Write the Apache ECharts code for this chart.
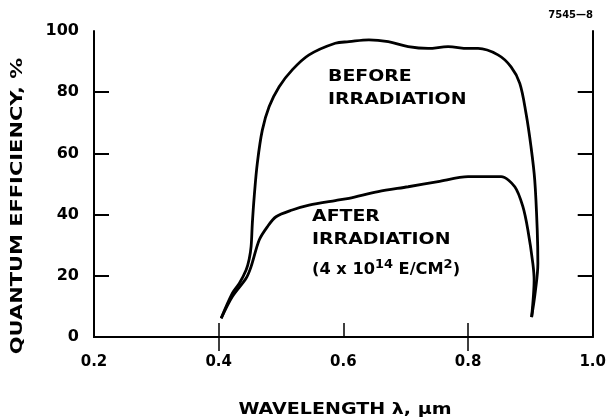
<!DOCTYPE html>
<html>
<head>
<meta charset="utf-8">
<script src="https://cdn.jsdelivr.net/npm/echarts@6/dist/echarts.min.js"></script>
<style>
  html, body { margin: 0; padding: 0; background: #fff; }
  #chart { width: 609px; height: 419px; }
</style>
</head>
<body>
<div id="chart"></div>
<script>
// ---- data ----
var beforeX = [0.404, 0.422, 0.433, 0.444, 0.449, 0.452, 0.454, 0.457, 0.462, 0.470, 0.481, 0.497, 0.518, 0.545, 0.587, 0.609, 0.641, 0.672, 0.704, 0.736, 0.768, 0.800, 0.816, 0.848, 0.869, 0.883, 0.893, 0.901, 0.907, 0.911, 0.912, 0.908, 0.902];
var beforeY = [6.1, 14.3, 17.5, 21.9, 25.5, 29.5, 37.2, 45.9, 56.8, 67.6, 75.3, 81.8, 87.3, 92.2, 96.0, 96.5, 97.1, 96.5, 94.9, 94.3, 94.9, 94.3, 94.3, 92.2, 88.3, 82.9, 73.1, 62.2, 51.3, 35.0, 24.0, 15.0, 6.5];
var afterX = [0.404, 0.422, 0.444, 0.452, 0.465, 0.478, 0.492, 0.518, 0.545, 0.587, 0.609, 0.656, 0.704, 0.752, 0.800, 0.816, 0.853, 0.875, 0.888, 0.896, 0.904, 0.906, 0.902];
var afterY = [6.1, 13.2, 19.2, 23.0, 31.7, 36.0, 39.3, 41.5, 43.1, 44.6, 45.3, 47.5, 49.1, 50.8, 52.4, 52.4, 52.4, 49.1, 42.6, 35.0, 24.0, 18.6, 6.5];
var xTickValues = [0.2, 0.4, 0.6, 0.8, 1.0];
var yTickValues = [0, 20, 40, 60, 80, 100];
var xName = 'WAVELENGTH \u03bb, \u03bcm';
var yName = 'QUANTUM EFFICIENCY, %';
var figId = '7545\u20148';

function zip(xs, ys) { return xs.map(function (x, i) { return [x, ys[i]]; }); }

var FONT = '"DejaVu Sans", sans-serif';
var axisLineStyle = { color: '#000', width: 2 };

var chart = echarts.init(document.getElementById('chart'), null, { renderer: 'canvas' });
chart.setOption({
  backgroundColor: '#fff',
  animation: false,
  grid: { left: 94, right: 14, top: 31, bottom: 82 },
  xAxis: [
    {
      type: 'value', position: 'bottom', min: 0.2, max: 1.0, interval: 0.2,
      axisLine: { show: true, lineStyle: axisLineStyle },
      axisTick: { show: true, inside: true, length: 14, lineStyle: { color: '#000', width: 1.5 }, customValues: [0.4, 0.6, 0.8] },
      axisLabel: { show: true, margin: 18, color: '#000', fontFamily: FONT, fontWeight: 'bold', fontSize: 15,
        customValues: xTickValues, formatter: function (v) { return v.toFixed(1); } },
      splitLine: { show: false }
    },
    {
      type: 'value', position: 'top', min: 0.2, max: 1.0, interval: 0.2,
      axisLine: { show: true, lineStyle: axisLineStyle },
      axisTick: { show: true, inside: true, length: 14, lineStyle: { color: '#000', width: 1.5 }, customValues: [0.4, 0.8] },
      axisLabel: { show: false },
      splitLine: { show: false }
    }
  ],
  yAxis: [
    {
      type: 'value', position: 'left', min: 0, max: 100, interval: 20,
      axisLine: { show: true, lineStyle: axisLineStyle },
      axisTick: { show: true, inside: true, length: 15, lineStyle: { color: '#000', width: 2 }, customValues: [20, 40, 60, 80] },
      axisLabel: { show: true, margin: 15, color: '#000', fontFamily: FONT, fontWeight: 'bold', fontSize: 16, customValues: yTickValues },
      splitLine: { show: false }
    },
    {
      type: 'value', position: 'right', min: 0, max: 100, interval: 20,
      axisLine: { show: true, lineStyle: axisLineStyle },
      axisTick: { show: true, inside: true, length: 15, lineStyle: { color: '#000', width: 2 }, customValues: [20, 40, 60, 80] },
      axisLabel: { show: false },
      splitLine: { show: false }
    }
  ],
  series: [
    {
      name: 'Before irradiation', type: 'line', xAxisIndex: 0, yAxisIndex: 0,
      data: zip(beforeX, beforeY), showSymbol: false, symbol: 'none', smooth: 0.35,
      lineStyle: { color: '#000', width: 2.8 }
    },
    {
      name: 'After irradiation', type: 'line', xAxisIndex: 0, yAxisIndex: 0,
      data: zip(afterX, afterY), showSymbol: false, symbol: 'none', smooth: 0.3,
      lineStyle: { color: '#000', width: 2.8 }
    }
  ],
  graphic: [
    { type: 'text', x: 345, y: 410, scaleX: 1.27,
      style: { text: xName, fill: '#000', font: 'bold 15px ' + FONT, align: 'center', verticalAlign: 'middle' } },
    { type: 'text', x: 18, y: 206, rotation: Math.PI / 2, scaleX: 1.31,
      style: { text: yName, fill: '#000', font: 'bold 16px ' + FONT, align: 'center', verticalAlign: 'middle' } },
    { type: 'text', x: 593, y: 15,
      style: { text: figId, fill: '#000', font: 'bold 10px ' + FONT, align: 'right', verticalAlign: 'middle' } },
    { type: 'text', x: 328, y: 77, scaleX: 1.26,
      style: { text: 'BEFORE', fill: '#000', font: 'bold 15px ' + FONT, align: 'left', verticalAlign: 'middle' } },
    { type: 'text', x: 328, y: 100, scaleX: 1.26,
      style: { text: 'IRRADIATION', fill: '#000', font: 'bold 15px ' + FONT, align: 'left', verticalAlign: 'middle' } },
    { type: 'text', x: 312, y: 217, scaleX: 1.26,
      style: { text: 'AFTER', fill: '#000', font: 'bold 15px ' + FONT, align: 'left', verticalAlign: 'middle' } },
    { type: 'text', x: 312, y: 240, scaleX: 1.26,
      style: { text: 'IRRADIATION', fill: '#000', font: 'bold 15px ' + FONT, align: 'left', verticalAlign: 'middle' } },
    { type: 'text', x: 312, y: 270, scaleX: 1.08,
      style: {
        text: '(4 x 10{sup|14} E/CM{sup|2})', fill: '#000', font: 'bold 15px ' + FONT, align: 'left', verticalAlign: 'middle',
        rich: { sup: { fontSize: 12, fontWeight: 'bold', fontFamily: FONT, fill: '#000', padding: [0, 0, 10, 0] } }
      } }
  ]
});
</script>
</body>
</html>
